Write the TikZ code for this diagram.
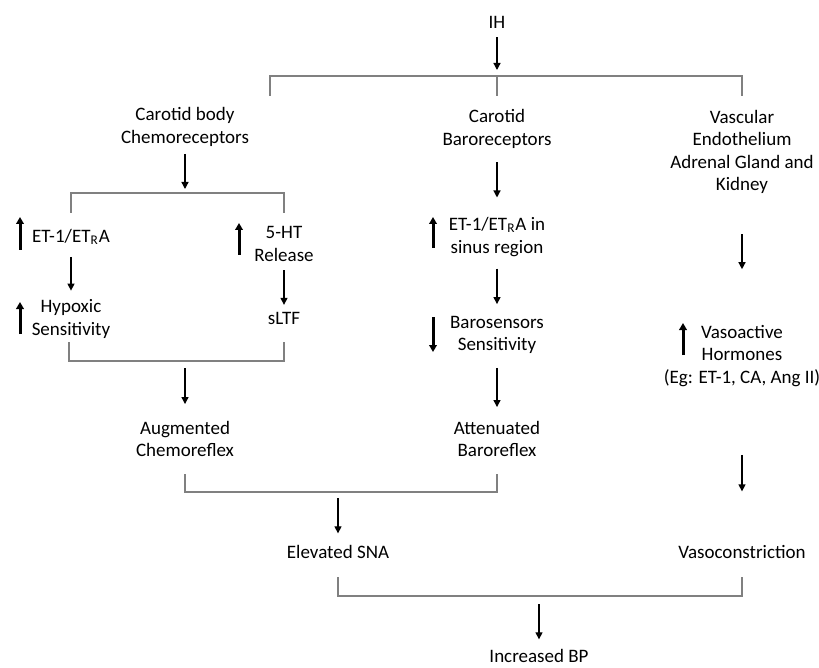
\documentclass[tikz,border=0pt]{standalone}
\usepackage{fontspec}
\setmainfont{Carlito}
\usetikzlibrary{arrows.meta}
\definecolor{brkgray}{RGB}{128,128,128}
\begin{document}
\begin{tikzpicture}[x=0.5pt, y=-0.5pt,
		txt/.style={align=center, inner sep=0pt, outer sep=0pt, font=\fontsize{9.5}{11.3}\selectfont},
		arr/.style={-{Triangle[length=3.5pt, width=3.5pt]}, line width=0.65pt},
		brk/.style={draw=brkgray, line width=0.6pt},
		ind/.style={-{Triangle[length=3.5pt, width=3.8pt]}, line width=1.5pt}]
			\useasboundingbox (0,0) rectangle (819,668);
			% texts
			\node[txt] (ih) at (497,22) {IH};
			\node[txt] (chemo) at (185,127) {Carotid body\\Chemoreceptors};
			\node[txt] (baro) at (497,129) {Carotid\\Baroreceptors};
			\node[txt] (vasc) at (742,152) {Vascular\\Endothelium\\Adrenal Gland and\\Kidney};
			\node[txt] (et1) at (71,237) {ET-1/ET\textsubscript{R}A};
			\node[txt] (hypox) at (71,319) {Hypoxic\\Sensitivity};
			\node[txt] (ht) at (284,244) {5-HT\\Release};
			\node[txt] (sltf) at (284,318) {sLTF};
			\node[txt] (etsin) at (497,237) {ET-1/ET\textsubscript{R}A in\\sinus region};
			\node[txt] (barosens) at (497,335) {Barosensors\\Sensitivity};
			\node[txt] (augm) at (185,439) {Augmented\\Chemoreflex};
			\node[txt] (atten) at (497,439) {Attenuated\\Baroreflex};
			\node[txt] (vasoact) at (742,356) {Vasoactive\\Hormones\\(Eg: ET-1, CA, Ang II)};
			\node[txt] (esna) at (338,552) {Elevated SNA};
			\node[txt] (vcon) at (742,552) {Vasoconstriction};
			\node[txt] (ibp) at (539,656) {Increased BP};
			
			% brackets
			\coordinate (j1) at (497,76);
			\coordinate (s1a) at (270,96);
			\coordinate (s1b) at (497,96);
			\coordinate (s1c) at (742,96);
			\draw[brk] (s1a) |- (j1) -| (s1c);
			\draw[brk] (j1) -- (s1b);
			
			\coordinate (j2) at (185,193);
			\coordinate (s2a) at (71,213);
			\coordinate (s2c) at (284,213);
			\draw[brk] (s2a) |- (j2) -| (s2c);
			
			\coordinate (j3) at (185,361);
			\coordinate (m3a) at (69,342);
			\coordinate (m3c) at (284,342);
			\draw[brk] (m3a) |- (j3) -| (m3c);
			
			\coordinate (j4) at (338,492);
			\coordinate (m4a) at (185,474);
			\coordinate (m4c) at (497,474);
			\draw[brk] (m4a) |- (j4) -| (m4c);
			
			\coordinate (j5) at (539,596);
			\coordinate (m5a) at (338,577);
			\coordinate (m5c) at (742,577);
			\draw[brk] (m5a) |- (j5) -| (m5c);
			
			% arrows
			\draw[arr, shorten <=4.5pt, shorten >=3pt] (ih) -- (j1);
			\draw[arr, shorten <=3.75pt, shorten >=2pt] (chemo) -- (j2);
			\draw[arr, shorten <=6pt, shorten >=4.5pt] (et1) -- (hypox);
			\draw[arr, shorten <=4.5pt, shorten >=3.5pt] (ht) -- (sltf);
			\draw[arr, shorten <=3.5pt, shorten >=8.5pt] (j3) -- (augm);
			\draw[arr, shorten <=3pt, shorten >=6pt] (j4) -- (esna);
			\draw[arr, shorten <=4pt, shorten >=5pt] (j5) -- (ibp);
			\draw[arr, shorten <=7pt, shorten >=10pt] (baro) -- (etsin);
			\draw[arr, shorten <=6pt, shorten >=6pt] (etsin) -- (barosens);
			\draw[arr, shorten <=7pt, shorten >=7pt] (barosens) -- (atten);
			\draw[arr, shorten <=20pt, shorten >=28pt] (vasc) -- (vasoact);
			\draw[arr, shorten <=34pt, shorten >=27pt] (vasoact) -- (vcon);
			
			% up and down marks
			\draw[ind] (20,250) -- (20,217);
			\draw[ind] (20,334) -- (20,302);
			\draw[ind] (239,255) -- (239,223);
			\draw[ind] (433,248) -- (433,217);
			\draw[ind] (433,317) -- (433,352);
			\draw[ind] (683,355) -- (683,323);
		\end{tikzpicture}
\end{document}
